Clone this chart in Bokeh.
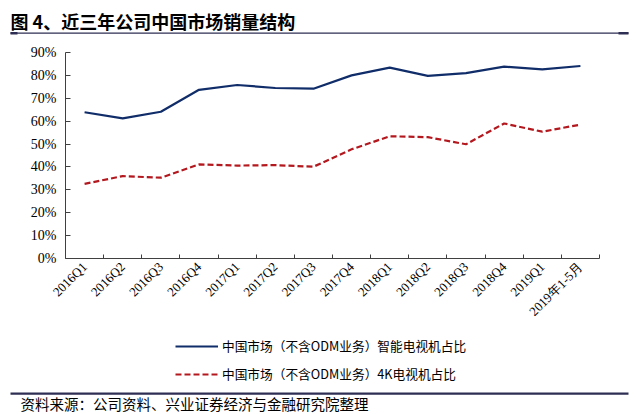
from bokeh.plotting import figure
from bokeh.layouts import column
from bokeh.models import (Range1d, FixedTicker, NumeralTickFormatter, Legend, LegendItem,
                          ColumnDataSource)
from bokeh.core.properties import value
from bokeh.embed import file_html
from bokeh.resources import INLINE
import math

categories = ["2016Q1", "2016Q2", "2016Q3", "2016Q4", "2017Q1", "2017Q2", "2017Q3", "2017Q4",
              "2018Q1", "2018Q2", "2018Q3", "2018Q4", "2019Q1", "2019年1-5月"]
smart_tv = [0.639, 0.612, 0.641, 0.737, 0.758, 0.745, 0.742, 0.800,
            0.834, 0.798, 0.810, 0.838, 0.826, 0.841]
tv_4k = [0.326, 0.360, 0.353, 0.411, 0.406, 0.408, 0.401, 0.477,
         0.534, 0.530, 0.499, 0.590, 0.554, 0.585]
y_ticks = [0.0, 0.1, 0.2, 0.3, 0.4, 0.5, 0.6, 0.7, 0.8, 0.9]
series_names = ["中国市场（不含ODM业务）智能电视机占比", "中国市场（不含ODM业务）4K电视机占比"]
title_text = "图 4、近三年公司中国市场销量结构"
source_text = "资料来源：公司资料、兴业证券经济与金融研究院整理"

W = 636
serif = "Liberation Serif"
cjk = "Noto Sans CJK SC"
navy = "#102D6A"
red = "#B3181E"
rule = "#2E2E55"


def blank(h, y_range=None):
    f = figure(width=W, height=h, output_backend="svg", toolbar_location=None,
               x_range=Range1d(0, W), y_range=y_range or Range1d(h, 0),
               x_axis_type=None, y_axis_type=None, min_border=0, frame_align=False)
    f.outline_line_color = None
    f.xgrid.grid_line_color = None
    f.ygrid.grid_line_color = None
    f.border_fill_color = "white"
    f.background_fill_color = "white"
    return f


# ---- header ----
HH = 40
head = blank(HH)
head.text(x=[10], y=[20], text=[title_text], text_font=value(cjk), text_font_style="bold",
          text_font_size="18px", text_baseline="middle", text_align="left", text_color="#000000")
head.quad(left=[10], right=[628], top=[32], bottom=[33.3], fill_color=rule, line_color=None)
head.quad(left=[10, 618], right=[17, 628], top=[31.5, 31.5], bottom=[34, 34],
          fill_color=rule, line_color=None)

# ---- main chart ----
MH = 294
FL, FT, FR, FB = 65, 12, 599, 218
p = figure(width=W, height=MH, output_backend="svg", toolbar_location=None,
           x_range=Range1d(0, len(categories)), y_range=Range1d(0, 0.9),
           min_border_left=FL, min_border_right=W - FR, min_border_top=FT,
           min_border_bottom=MH - FB, frame_align=False)
p.outline_line_color = None
p.xgrid.grid_line_color = None
p.ygrid.grid_line_color = None
p.border_fill_color = "white"

xs = [i + 0.5 for i in range(len(categories))]
src = ColumnDataSource(dict(x=xs, a=smart_tv, b=tv_4k))
p.line("x", "a", source=src, line_color=navy, line_width=2.2)
p.line("x", "b", source=src, line_color=red, line_width=2.2, line_dash="6 3")

xa = p.xaxis[0]
xa.ticker = FixedTicker(ticks=xs, minor_ticks=list(range(len(categories) + 1)))
xa.major_label_overrides = {x: c for x, c in zip(xs, categories)}
xa.major_tick_in = 0
xa.major_tick_out = 0
xa.minor_tick_in = 4
xa.minor_tick_out = 0
xa.minor_tick_line_color = "#404040"
xa.axis_line_color = "#404040"
xa.major_label_orientation = math.pi / 4
xa.major_label_text_font = serif
xa.major_label_text_font_size = "13px"
xa.major_label_text_color = "#000000"
xa.major_label_standoff = 6

ya = p.yaxis[0]
ya.ticker = FixedTicker(ticks=y_ticks)
ya.formatter = NumeralTickFormatter(format="0%")
ya.major_tick_in = 5
ya.major_tick_out = 0
ya.minor_tick_line_color = None
ya.major_tick_line_color = "#404040"
ya.axis_line_color = "#404040"
ya.major_label_text_font = serif
ya.major_label_text_font_size = "14px"
ya.major_label_text_color = "#000000"
ya.major_label_standoff = 9

# ---- legend (series data lies outside this strip's range, only the key is seen) ----
LH = 50
leg = blank(LH, y_range=Range1d(2, 3))
d1 = leg.line("x", "a", source=src, line_color=navy, line_width=2.2)
d2 = leg.line("x", "b", source=src, line_color=red, line_width=2.2, line_dash="6 3")
legend = Legend(items=[LegendItem(label=series_names[0], renderers=[d1]),
                       LegendItem(label=series_names[1], renderers=[d2])],
                location=(175, 1), orientation="vertical",
                glyph_width=43, glyph_height=16, label_height=16, label_standoff=4,
                spacing=9, padding=0, margin=0,
                border_line_color=None, background_fill_alpha=0,
                label_text_font=cjk, label_text_font_size="12.7px", label_text_color="#000000",
                label_text_baseline="middle")
leg.add_layout(legend, "center")

# ---- footer ----
FH = 30
foot = blank(FH)
foot.quad(left=[10], right=[628], top=[8], bottom=[10.2], fill_color=rule, line_color=None)
foot.text(x=[20], y=[19], text=[source_text], text_font=value(cjk), text_font_size="14.5px",
          text_baseline="middle", text_align="left", text_color="#000000")

layout = column(head, p, leg, foot, spacing=0)
open("out.html", "w").write(file_html(layout, INLINE))
